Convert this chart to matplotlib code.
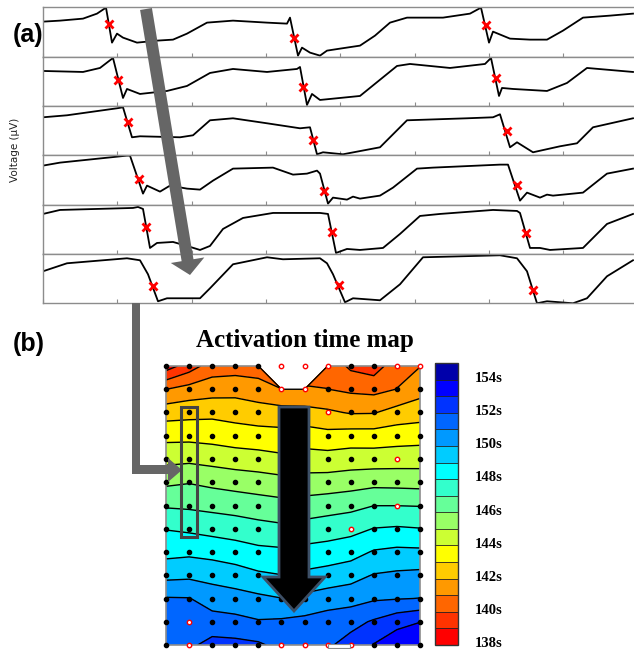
import matplotlib
matplotlib.use("Agg")
import matplotlib.pyplot as plt
import numpy as np
from matplotlib.patches import FancyArrow, Polygon, Rectangle
from matplotlib.transforms import ScaledTranslation

W, H = 634, 649

# ---------- (a) unipolar electrograms, x in samples, y in uV (per channel) ----------
trace_x = [
    [0, 17, 40, 54, 63, 69, 74, 80, 94, 114, 130, 144, 164, 190, 224, 244, 247, 255, 259, 267,
     277, 284, 297, 317, 332, 347, 364, 400, 427, 438, 446, 450, 467, 487, 504, 520, 540, 567, 590],
    [0, 40, 57, 70, 80, 84, 97, 124, 144, 167, 190, 224, 254, 257, 264, 269, 277, 317, 354, 367,
     407, 442, 448, 456, 459, 470, 504, 524, 544, 590],
    [0, 24, 74, 80, 89, 97, 137, 150, 167, 190, 224, 257, 267, 274, 280, 300, 337, 364, 424, 450,
     457, 467, 474, 490, 517, 534, 550, 590],
    [0, 17, 84, 87, 100, 104, 117, 127, 144, 157, 170, 190, 230, 250, 264, 274, 277, 285, 290, 304,
     310, 317, 337, 350, 374, 390, 457, 465, 477, 484, 497, 504, 510, 540, 564, 590],
    [0, 17, 90, 95, 100, 107, 114, 130, 144, 157, 167, 180, 200, 230, 277, 285, 293, 304, 317, 340,
     357, 377, 397, 450, 474, 477, 487, 497, 507, 540, 564, 590],
    [0, 24, 84, 97, 105, 115, 124, 157, 167, 190, 224, 240, 277, 284, 290, 302, 310, 337, 357, 380,
     457, 474, 484, 494, 504, 530, 544, 564, 590],
]
trace_y = [
    [35, 36, 38, 43, 49, 14, 23, 19, 14, 16, 17, 23, 34, 36, 34, 33, 39, 1, 9, 4,
     1, 6, 8, 11, 21, 34, 39, 39, 43, 49, 14, 25, 18, 17, 17, 26, 39, 41, 43],
    [35, 34, 38, 48, 8, 17, 12, 15, 20, 33, 37, 34, 37, 39, 1, 12, 6, 10, 40, 42,
     38, 42, 48, 10, 18, 17, 15, 23, 38, 34],
    [38, 40, 47, 48, 18, 19, 18, 20, 35, 37, 32, 27, 28, 1, 3, 1, 8, 35, 37, 38,
     41, 8, 13, 3, 9, 12, 28, 37],
    [39, 42, 49, 49, 11, 19, 13, 19, 16, 15, 24, 36, 37, 30, 31, 34, 31, 1, 7, 5,
     8, 6, 9, 17, 36, 37, 40, 40, 4, 12, 7, 10, 9, 12, 31, 36],
    [40, 44, 46, 47, 45, 6, 11, 12, 8, 4, 8, 25, 36, 41, 41, 40, 1, 5, 4, 6,
     20, 38, 40, 44, 43, 41, 6, 6, 4, 6, 30, 40],
    [32, 40, 45, 43, 29, 2, 5, 5, 15, 39, 46, 44, 45, 40, 29, 1, 5, 3, 19, 46,
     48, 45, 32, 0, 2, 0, 5, 27, 43],
]
# detected activation times (red crosses)
act_x = [[66, 251, 443], [75, 260, 453], [85, 270, 464],
         [96, 281, 474], [103, 289, 483], [110, 296, 490]]
act_y = [[33, 19, 32], [26, 19, 28], [33, 15, 24],
         [26, 14, 20], [27, 22, 21], [17, 18, 13]]

# ---------- (b) activation times (s) on the 13 x 12 electrode grid ----------
nan = np.nan
act_map = [
    [138.00, 139.00, 140.00, 140.05, 140.00, nan, nan, 140.20, 139.30, 139.00, 140.10, 140.47],
    [140.49, 140.87, 141.05, 141.15, 140.94, 140.52, 140.55, 140.51, 140.31, 140.20, 140.52, 141.14],
    [142.08, 142.18, 142.25, 142.10, 141.93, 141.90, 141.85, 141.66, 141.42, 141.44, 141.88, 142.05],
    [143.21, 143.21, 143.13, 142.99, 142.91, 142.83, 142.97, 142.81, 142.95, 142.95, 143.05, 143.11],
    [144.20, 144.28, 144.14, 143.98, 143.88, 143.72, 143.93, 143.90, 143.99, 143.98, 144.03, 144.06],
    [145.31, 145.45, 145.27, 145.12, 144.99, 144.84, 144.88, 144.93, 145.06, 145.20, 145.17, 145.12],
    [146.39, 146.33, 146.21, 146.09, 145.95, 145.83, 145.93, 146.08, 146.22, 146.49, 146.49, 146.46],
    [147.46, 147.33, 147.17, 147.03, 146.84, 146.71, 146.88, 147.03, 147.19, 147.53, 147.61, 147.53],
    [148.20, 148.29, 148.16, 147.98, 147.76, 147.69, 147.80, 147.91, 148.11, 148.59, 148.73, 148.70],
    [149.21, 149.29, 149.16, 148.95, 148.66, 148.52, 148.71, 148.90, 149.12, 149.56, 149.68, 149.76],
    [150.57, 150.54, 150.04, 149.90, 149.71, 149.52, 149.75, 149.98, 150.12, 150.38, 150.45, 150.52],
    [150.90, 150.95, 150.90, 150.79, 150.58, 150.65, 150.76, 151.00, 151.17, 151.62, 152.14, 152.48],
    [151.20, 151.30, 151.84, 151.79, 151.65, 151.20, 151.30, 151.35, 151.90, 152.55, 153.20, 153.30],
]
# electrodes drawn as red open circles (row, col)
red_pts = [(0, 5), (0, 6), (0, 7), (0, 10), (0, 11), (1, 5), (1, 6), (2, 7), (4, 10),
           (6, 10), (7, 8), (11, 1), (12, 1), (12, 5), (12, 6), (12, 7), (12, 8)]

band_values = list(range(138, 155))
band_colors = ["#FF0000", "#FF3300", "#FF6600", "#FF9900", "#FFCC00", "#FFFF00",
               "#CCFF33", "#99FF66", "#66FF99", "#33FFCC", "#00FFFF", "#00CCFF",
               "#0099FF", "#0066FF", "#0033FF", "#0000FF", "#0000AA"]
cbar_ticks = [138, 140, 142, 144, 146, 148, 150, 152, 154]
cbar_labels = [f"{t}s" for t in cbar_ticks]

fig = plt.figure(figsize=(W / 100, H / 100), dpi=100)


def px_axes(left, top, width, height, **kw):
    return fig.add_axes([left / W, 1 - (top + height) / H, width / W, height / H], **kw)


# ---------- (a) ----------
panel_h = 49.33
frame = "#8c8c8c"
for k in range(6):
    ax = px_axes(43, 7.3 + k * panel_h, 594, panel_h)
    ax.plot(trace_x[k], trace_y[k], color="black", lw=1.3)
    ax.plot(act_x[k], act_y[k], "x", color="red", ms=5.5, mew=2, zorder=3)
    ax.set_xlim(0, 594)
    ax.set_ylim(0, panel_h)
    ax.set_xticks(np.arange(0, 594, 74.3))
    ax.set_yticks([])
    ax.tick_params(axis="x", direction="in", length=3, color=frame, labelbottom=False)
    for s in ax.spines.values():
        s.set_color(frame)
        s.set_linewidth(1.0)

fig.text(15 / W, 1 - 150 / H, "Voltage (μV)", rotation=90, ha="center", va="center",
         fontsize=7.5, color="#222222")

# ---------- (b) activation map ----------
Z = np.ma.masked_invalid(np.array(act_map))
nr, nc = Z.shape
X, Y = np.meshgrid(np.arange(nc), np.arange(nr))
levels = np.arange(137.5, 155.0, 1.0)

axm = px_axes(166, 366, 254, 279)
cf = axm.contourf(X, Y, Z, levels=levels, colors=band_colors)
axm.contour(X, Y, Z, levels=levels, colors="black", linewidths=1.0)

# outline of the missing-electrode notch at the top edge
gap = np.where(np.isnan(np.array(act_map)[0]))[0]
axm.plot([gap[0] - 1, gap[0], gap[-1], gap[-1] + 1], [0, 1, 1, 0], color="black", lw=1.0)
axm.plot([0, gap[0] - 1], [0, 0], color=frame, lw=1.2, clip_on=False)
axm.plot([gap[-1] + 1, nc - 1], [0, 0], color=frame, lw=1.2, clip_on=False)

red = np.zeros((nr, nc), bool)
for r, c in red_pts:
    red[r, c] = True
axm.scatter(X[~red], Y[~red], s=9, c="black", zorder=3, clip_on=False)
axm.scatter(X[red], Y[red], s=10, facecolors="white", edgecolors="red", linewidths=1.0,
            zorder=3, clip_on=False)
axm.set_xlim(0, nc - 1)
axm.set_ylim(nr - 1, 0)
axm.set_xticks([])
axm.set_yticks([])
axm.spines["top"].set_visible(False)
for side in ["left", "right", "bottom"]:
    axm.spines[side].set_color(frame)
    axm.spines[side].set_linewidth(1.2)

cax = px_axes(435, 363, 23, 282)
cbar = fig.colorbar(cf, cax=cax, drawedges=True)
cbar.set_ticks(cbar_ticks)
cbar.set_ticklabels(cbar_labels)
cax.tick_params(length=0, pad=12)
for lab in cax.get_yticklabels():
    lab.set_fontfamily("Liberation Serif")
    lab.set_fontweight("bold")
    lab.set_fontsize(10.5)
    lab.set_transform(lab.get_transform() + ScaledTranslation(0, -4 / 72, fig.dpi_scale_trans))
cbar.outline.set_edgecolor("#333333")
cbar.outline.set_linewidth(1.0)
cbar.dividers.set_color("#222222")
cbar.dividers.set_linewidth(0.6)

fig.text(305 / W, 1 - 340 / H, "Activation time map", ha="center", va="center",
         fontfamily="Liberation Serif", fontweight="bold", fontsize=18)

# ---------- annotations (pixel overlay) ----------
ov = fig.add_axes([0, 0, 1, 1], zorder=10)
ov.set_xlim(0, W)
ov.set_ylim(H, 0)
ov.patch.set_alpha(0)
ov.axis("off")

gray = "#666666"
ov.add_patch(FancyArrow(146, 9, 44, 266, width=12, head_width=34, head_length=15,
                        length_includes_head=True, color=gray, lw=0))
ov.add_patch(Polygon([(132, 303), (140, 303), (140, 465), (168, 465), (168, 458),
                      (182, 470), (168, 482), (168, 474), (132, 474)],
                     closed=True, color=gray, lw=0))
ov.add_patch(Rectangle((181, 407), 16, 130, fill=False, ec="#444444", lw=2.2))
ov.add_patch(FancyArrow(294, 407, 0, 204, width=30, head_width=62, head_length=34,
                        length_includes_head=True, fc="black", ec="#3D4F66", lw=2))
ov.add_patch(Rectangle((328, 644), 22, 4, fc="white", ec="#888888", lw=0.8))

fig.text(28 / W, 1 - 35 / H, "(a)", ha="center", va="center",
         fontfamily="Liberation Sans", fontweight="bold", fontsize=18)
fig.text(29 / W, 1 - 344 / H, "(b)", ha="center", va="center",
         fontfamily="Liberation Sans", fontweight="bold", fontsize=18)

fig.savefig("out.png", dpi=100)
